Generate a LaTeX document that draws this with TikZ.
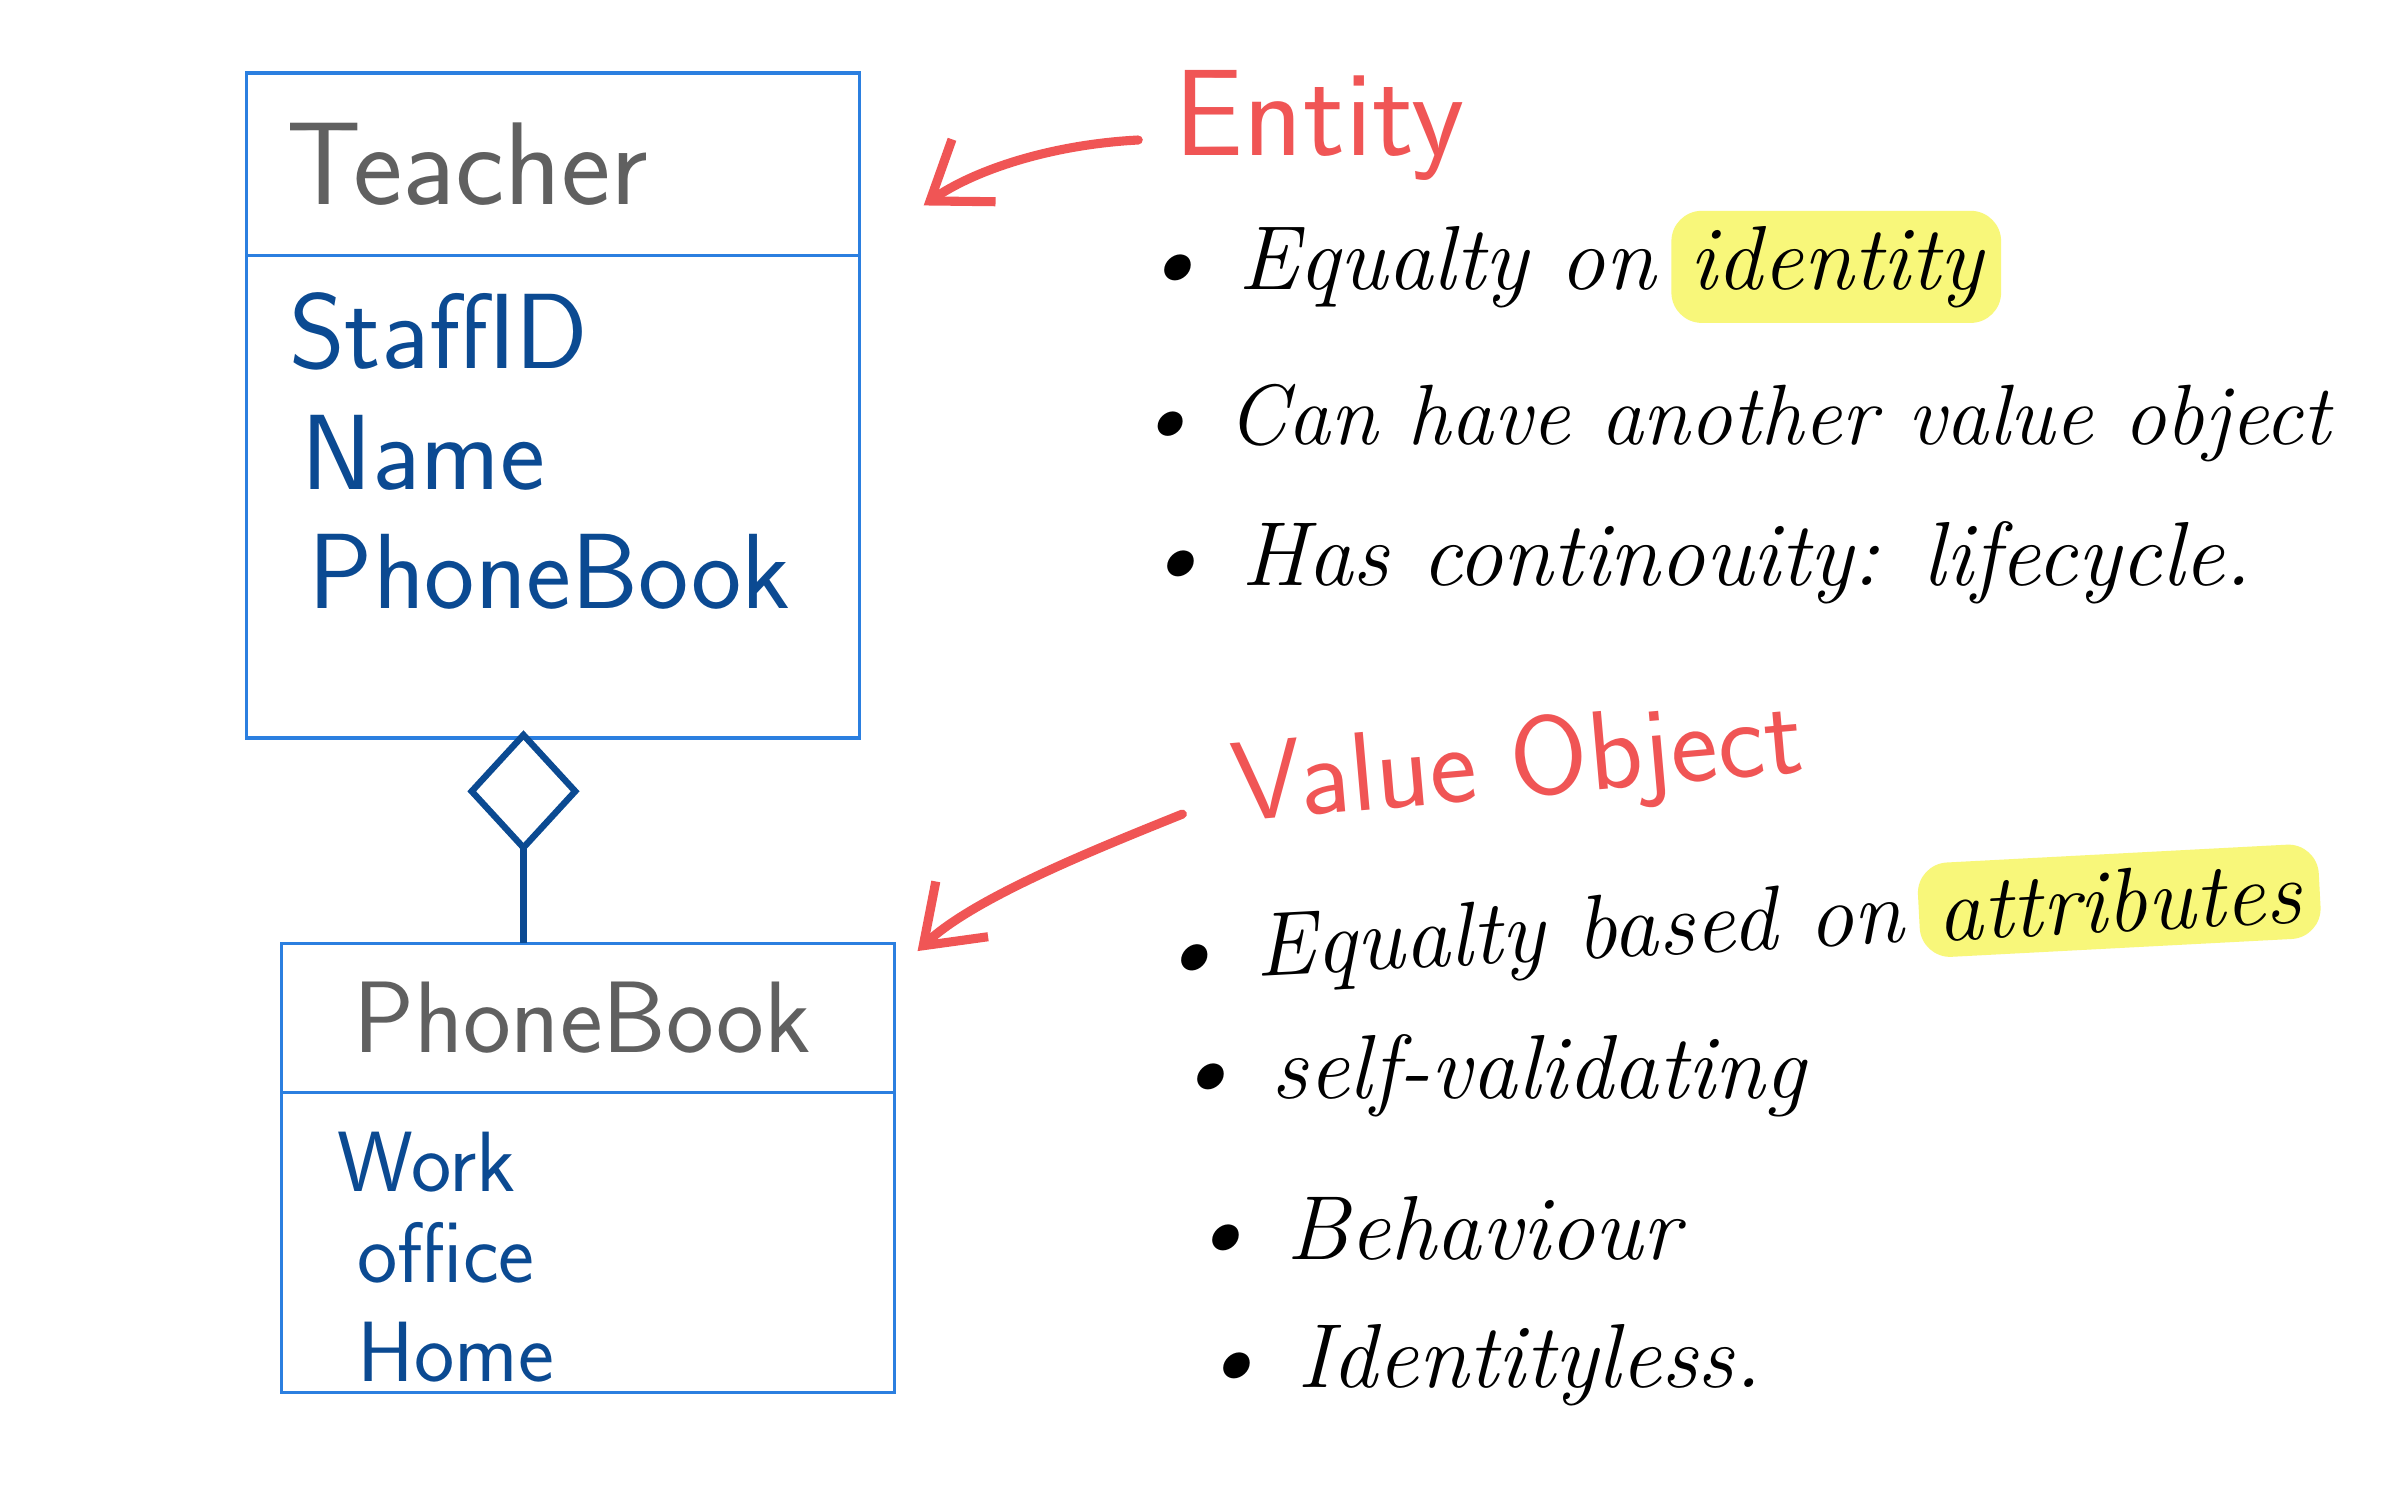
\documentclass[tikz,border=0pt]{standalone}
\usepackage{tikz}
\usetikzlibrary{arrows.meta, positioning, shapes.geometric}
\definecolor{umlblue}{HTML}{2B7FE0}
\definecolor{inkblue}{HTML}{0B4A92}
\definecolor{inkgray}{HTML}{606060}
\definecolor{inkred}{HTML}{F05555}
\definecolor{marker}{HTML}{F8F77A}

\begin{document}
\begin{tikzpicture}[x=0.1mm, y=-0.1mm, every node/.style={inner sep=0pt, outer sep=0pt}]
    \tikzset{classbox/.style={draw=umlblue, line width=0.6pt, minimum width=40.3mm},
      classname/.style={classbox, align=left, text=inkgray, font=\sffamily\fontsize{22}{26}\selectfont},
      attr/.style={anchor=base west, text=inkblue, font=\sffamily\fontsize{20}{24}\selectfont},
      subattr/.style={attr, font=\sffamily\fontsize{16}{20}\selectfont},
      aggr/.style={diamond, draw=inkblue, line width=1.2pt, minimum width=6.8mm, minimum height=7.4mm},
      redtitle/.style={anchor=base west, text=inkred, font=\sffamily\fontsize{23}{27}\selectfont},
      note/.style={anchor=base west, font=\itshape\fontsize{17}{21}\selectfont},
      hl/.style={fill=marker, rounded corners=2mm, inner xsep=1.2mm, inner ysep=1mm},
      redarrow/.style={draw=inkred, line width=1.7pt, line cap=round, -{Straight Barb[length=3.5mm, width=5mm]}}}
    \fill[white] (0,0) rectangle (1568,980);
    \useasboundingbox (0,0) rectangle (1568,980);
    % Teacher
    \node[classname, minimum height=12mm, text width=35mm] (teacher) at (363.5,108) {Teacher};
    \node[classbox, minimum height=31.7mm, below=0pt of teacher] (teacherbody) {};
    \node[attr] (staffid) at (190,242) {StaffID};
    \node[attr] (name) at (198,322) {Name};
    \node[attr] (phone) at (203,400) {PhoneBook};
    % PhoneBook
    \node[aggr] (agg) at (344,520) {};
    \node[classname, minimum height=9.8mm, text width=30.9mm, font=\sffamily\fontsize{19}{23}\selectfont] (pbhead) at (386.5,669) {PhoneBook};
    \node[classbox, minimum height=19.7mm, below=0pt of pbhead] (pbbody) {};
    \node[subattr] (work) at (222,783) {Work};
    \node[subattr] (office) at (235,843) {office};
    \node[subattr] (home) at (235,908) {Home};
    \draw[inkblue, line width=1.2pt] (agg.south) -- (agg.south |- pbhead.north);
    % Entity notes
    \node[redtitle] (entity) at (772,102) {Entity};
    \node[note] (ent1) at (748,190) {\textbullet\ Equalty on};
    \node[note, hl, base right=0.3em of ent1] (ent1hl) {identity};
    \node[note, font=\itshape\fontsize{16}{20}\selectfont] (ent2) at (745,292) {\textbullet\ Can have another value object};
    \node[note] (ent3) at (750,385) {\textbullet\ Has continouity: lifecycle.};
    \coordinate (enttip) at (607,135);
    \draw[redarrow] ([xshift=-2.4mm, yshift=1mm]entity.base west) .. controls (690,95) and (640,112) .. (enttip);
    % Value Object notes
    \node[redtitle, rotate=5, font=\sffamily\fontsize{21}{25}\selectfont] (valobj) at (812,540) {Value Object};
    \node[note, rotate=3] (val1) at (760,645) {\textbullet\ Equalty based on};
    \node[note, hl, rotate=3, base right=0.3em of val1] (val1hl) {attributes};
    \node[note] (val2) at (770,722) {\textbullet\ self-validating};
    \node[note] (val3) at (780,828) {\textbullet\ Behaviour};
    \node[note] (val4) at (787,912) {\textbullet\ Identityless.};
    \coordinate (valtip) at (603,625);
    \draw[redarrow] ([xshift=-3.5mm, yshift=0.5mm]valobj.base west) .. controls (720,558) and (640,590) .. (valtip);
\end{tikzpicture}
\end{document}
